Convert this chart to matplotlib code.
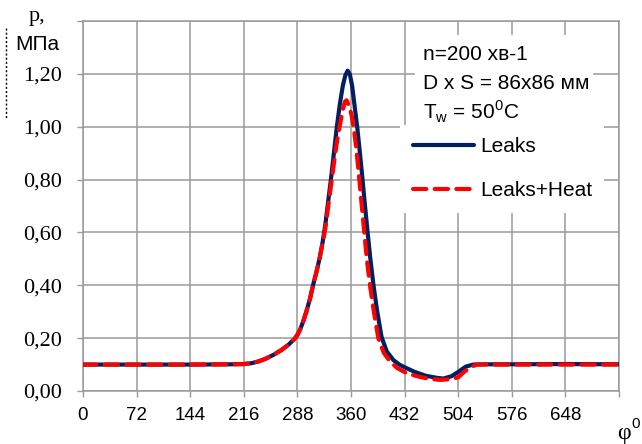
import matplotlib
matplotlib.use('Agg')
import matplotlib.pyplot as plt
from matplotlib.patches import Rectangle
from matplotlib.lines import Line2D

#==================
# Data
#==================
phi_leaks = [0, 72, 144, 200, 216, 226, 236, 246, 256, 266, 276, 284, 288, 292, 296, 300,
             305, 309, 314, 318, 322, 325.5, 329, 333, 337, 341, 345, 349, 352.5, 355.5,
             358.5, 361.5, 365, 368.5, 372, 375.5, 379, 382.5, 386, 390, 395, 401, 408,
             417, 425, 432, 445, 460, 475, 484, 495, 504, 514, 524, 540, 576, 648, 720]
p_leaks = [0.100, 0.100, 0.100, 0.101, 0.102, 0.105, 0.112, 0.123, 0.137, 0.154, 0.175,
           0.197, 0.212, 0.235, 0.265, 0.300, 0.350, 0.400, 0.455, 0.505, 0.565, 0.630,
           0.710, 0.800, 0.900, 1.000, 1.085, 1.155, 1.195, 1.212, 1.198, 1.155, 1.075,
           0.995, 0.900, 0.800, 0.695, 0.595, 0.500, 0.405, 0.305, 0.205, 0.150, 0.117,
           0.100, 0.090, 0.073, 0.058, 0.050, 0.047, 0.056, 0.072, 0.092, 0.100, 0.101,
           0.101, 0.102, 0.101]

phi_heat = [0, 72, 144, 200, 216, 226, 236, 246, 256, 266, 276, 284, 288, 292, 296, 300,
            305, 309, 314, 318, 322, 325.5, 329, 333, 337, 341, 345, 349, 352, 354, 358,
            361, 364, 367, 370, 373, 376, 379, 382, 386, 391, 396.7, 404, 412, 422, 435,
            450, 465, 480, 495, 504, 511, 520, 529, 540, 576, 648, 720]
p_heat = [0.100, 0.100, 0.100, 0.101, 0.102, 0.105, 0.112, 0.123, 0.137, 0.154, 0.175,
          0.197, 0.212, 0.235, 0.265, 0.300, 0.350, 0.400, 0.455, 0.505, 0.560, 0.615,
          0.690, 0.775, 0.860, 0.940, 1.005, 1.065, 1.095, 1.100, 1.075, 1.040, 0.990,
          0.920, 0.835, 0.745, 0.655, 0.565, 0.480, 0.390, 0.295, 0.200, 0.145, 0.113,
          0.087, 0.067, 0.055, 0.046, 0.042, 0.045, 0.052, 0.070, 0.090, 0.100, 0.100,
          0.100, 0.100, 0.100]

x_ticks = [0, 72, 144, 216, 288, 360, 432, 504, 576, 648, 720]
x_labels = ['0', '72', '144', '216', '288', '360', '432', '504', '576', '648', '']
y_ticks = [0.0, 0.2, 0.4, 0.6, 0.8, 1.0, 1.2, 1.4]
y_labels = ['0,00', '0,20', '0,40', '0,60', '0,80', '1,00', '1,20', '']

info_lines = ['n=200 хв-1', 'D x S = 86x86 мм',
              r'T$_\mathregular{w}$ = 50$^\mathregular{0}$C']

#==================
# Figure
#==================
W, H = 642, 444
fig = plt.figure(figsize=(W / 100, H / 100), dpi=100)
fx = lambda px: px / W
fy = lambda py: 1 - py / H

ax = fig.add_axes([fx(83), fy(391), fx(619) - fx(83), fy(21) - fy(391)])
grid_c = '#9a9a9a'

ax.plot(phi_leaks, p_leaks, color='#002060', lw=3.0, label='Leaks', zorder=3,
        solid_capstyle='round', solid_joinstyle='round')
ax.plot(phi_heat, p_heat, color='#ff0000', lw=3.0, ls=(0, (3.2, 2.0)), label='Leaks+Heat',
        zorder=4, dash_capstyle='round')

ax.set_xlim(0, 720)
ax.set_ylim(0, 1.4)
ax.set_xticks(x_ticks)
ax.set_xticklabels(x_labels, family=['Liberation Sans', 'DejaVu Sans'], fontsize=13.5)
ax.set_yticks(y_ticks)
ax.set_yticklabels(y_labels, family=['Liberation Serif', 'DejaVu Serif'], fontsize=16)
ax.tick_params(axis='x', length=4.3, width=1, color=grid_c, pad=7)
ax.tick_params(axis='y', length=4.3, width=1, color=grid_c, pad=10.5)
ax.grid(True, color=grid_c, lw=1.1)
for s in ax.spines.values():
    s.set_color(grid_c)
    s.set_linewidth(1.1)

# white box behind the info text
ax.add_patch(Rectangle((fx(415), fy(125)), fx(593) - fx(415), fy(35) - fy(125),
                       transform=fig.transFigure, facecolor='white', edgecolor='none',
                       zorder=2.5))
for i, t in enumerate(info_lines):
    fig.text(fx(423), fy(55 + i * 28.5), t, fontsize=15, va='center', ha='left',
             family=['Liberation Sans', 'DejaVu Sans'], zorder=6)

leg = ax.legend(loc='upper left', bbox_to_anchor=(fx(400), fy(125)),
                bbox_transform=fig.transFigure, borderaxespad=0, borderpad=0.6,
                handlelength=2.93, handletextpad=0.3, labelspacing=1.2,
                prop={'family': ['Liberation Sans', 'DejaVu Sans'], 'size': 15},
                fancybox=False, framealpha=1, facecolor='white', edgecolor='none')
leg.set_zorder(5)

# axis titles
fig.text(fx(37), fy(17), 'p,', fontsize=16, ha='center', va='center',
         family=['Liberation Serif', 'DejaVu Serif'])
fig.text(fx(37), fy(45), 'МПа', fontsize=15, ha='center', va='center',
         family=['Liberation Sans', 'DejaVu Sans'])
fig.text(fx(624), fy(433), 'φ', fontsize=17, ha='center', va='center',
         family=['Liberation Serif', 'DejaVu Serif'])
fig.text(fx(636), fy(424), '0', fontsize=11, ha='center', va='center',
         family=['Liberation Sans', 'DejaVu Sans'])

# dotted marker at the left edge
fig.add_artist(Line2D([fx(6), fx(6)], [fy(28), fy(118)], color='black', lw=1,
                      ls=(0, (1.5, 1.5))))

fig.savefig('out.png', dpi=100)
